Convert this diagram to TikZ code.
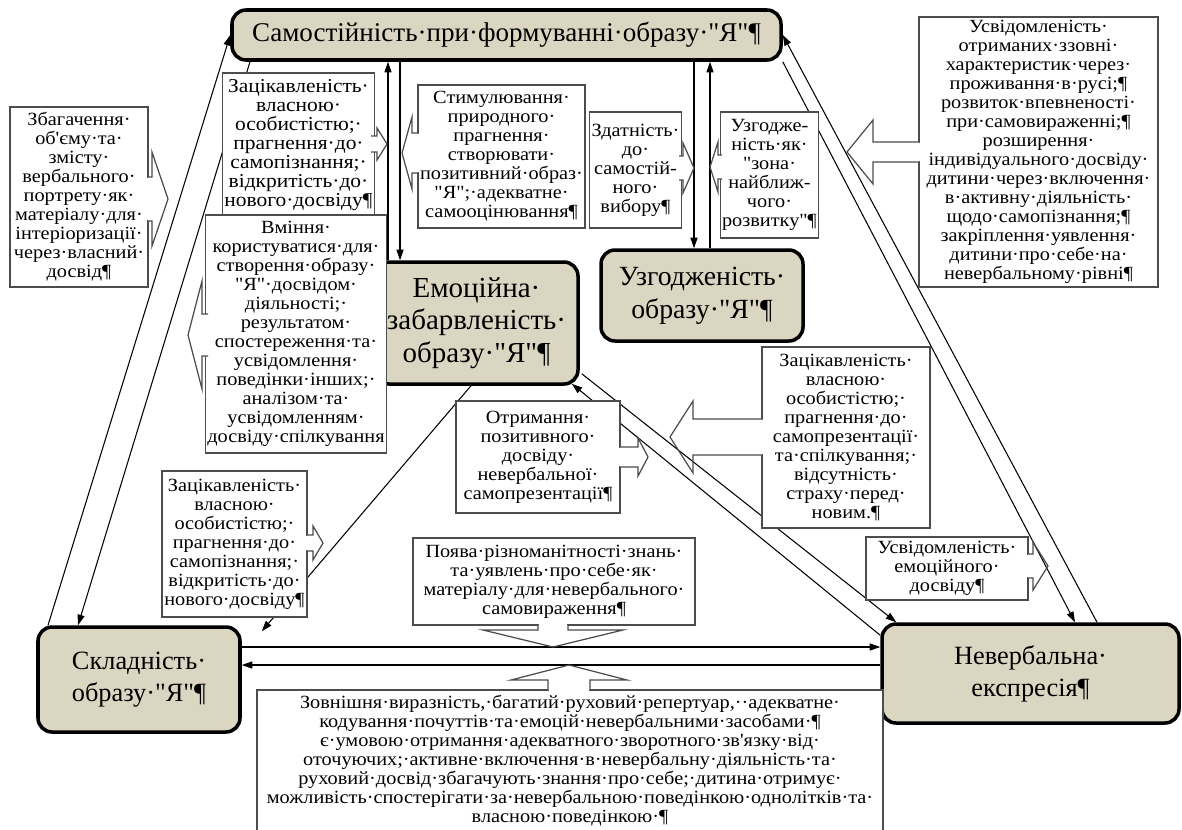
\documentclass[tikz,border=0pt]{standalone}
\usepackage{fontspec}
\setmainfont{Liberation Serif}[Ligatures=TeXOff]
\newfontfamily\notefont{Liberation Serif}[Ligatures=TeXOff, FakeStretch=1.09]
\usetikzlibrary{arrows.meta,calc}

\definecolor{tanfill}{RGB}{219,214,193}

\tikzset{
  main/.style={draw, line width=2pt, rounded corners=8pt, fill=tanfill, align=center,
    font=\fontsize{15}{18.2}\selectfont, inner sep=1pt},
  note/.style={draw=black!70, line width=0.7pt, fill=white, align=center,
    font=\notefont\fontsize{10.6}{10.8}\selectfont, inner sep=1pt},
  conn/.style={line width=0.6pt, -{Triangle[length=6pt,width=4pt]}},
  calline/.style={draw=black!70, line width=0.7pt},
}

% arrow of a callout box, pointing left or right
% #1 box edge x, #2 centre y, #3 head base x, #4 tip x, #5 half shaft, #6 half head
\newcommand{\calloutH}[6]{%
  \fill[white] (#1,#2-#5) rectangle (#3,#2+#5);
  \draw[white, line width=1.2pt] (#1,#2-#5+0.6) -- (#1,#2+#5-0.6);
  \draw[calline] (#1,#2-#5) -- (#3,#2-#5) -- (#3,#2-#6) -- (#4,#2) -- (#3,#2+#6) -- (#3,#2+#5) -- (#1,#2+#5);
}
% the same, pointing up or down
% #1 centre x, #2 box edge y, #3 head base y, #4 tip y, #5 half shaft, #6 half head
\newcommand{\calloutV}[6]{%
  \fill[white] (#1-#5,#2) rectangle (#1+#5,#3);
  \draw[white, line width=1.2pt] (#1-#5+0.6,#2) -- (#1+#5-0.6,#2);
  \draw[calline] (#1-#5,#2) -- (#1-#5,#3) -- (#1-#6,#3) -- (#1,#4) -- (#1+#6,#3) -- (#1+#5,#3) -- (#1+#5,#2);
}

\begin{document}
\begin{tikzpicture}[x=0.02cm, y=-0.02cm]
  \useasboundingbox (0,0) rectangle (1182,829);
  \fill[white] (0,0) rectangle (1182,829);
  \clip (0,0) rectangle (1182,829);
  % \draw[help lines, gray!50, very thin, step=50] (0,0) grid (1182,829);

  % five main blocks
  \node[main, font=\fontsize{15.4}{18.2}\selectfont, minimum width=549*0.02cm, minimum height=50*0.02cm] (samo) at (506.5,35)
    {Самостійність·при·формуванні·образу·"Я"¶};
  \node[main, font=\fontsize{16.5}{18.6}\selectfont, minimum width=203*0.02cm, minimum height=122*0.02cm] (emo) at (476.5,323)
    {Емоційна·\\забарвленість·\\образу·"Я"¶};
  \node[main, font=\fontsize{15.8}{18.6}\selectfont, minimum width=202*0.02cm, minimum height=91*0.02cm] (uzg) at (702,295.5)
    {Узгодженість·\\образу·"Я"¶};
  \node[main, minimum width=202*0.02cm, minimum height=105*0.02cm] (skl) at (139,679.5)
    {Складність·\\образу·"Я"¶};
  \node[main, minimum width=297*0.02cm, minimum height=99*0.02cm] (nev) at (1030.5,673.5)
    {Невербальна·\\експресія¶};

  % links between the blocks
  \draw[conn] (emo.north -| 388,0) -- (samo.south -| 388,0);
  \draw[conn] (samo.south -| 400,0) -- (emo.north -| 400,0);
  \draw[conn] (samo.south -| 694,0) -- (uzg.north -| 694,0);
  \draw[conn] (uzg.north -| 710,0) -- (samo.south -| 710,0);
  \draw[conn] (samo.south east) -- (nev.north -| 1075,0);
  \draw[conn] (nev.north -| 1097,0) -- (samo.east);
  \draw[conn] (samo.south -| 250,0) -- (skl.north -| 78,0);
  \draw[conn] (skl.north -| 48,0) -- (samo.west);
  \draw[conn] (emo.south -| 471,0) -- ($(skl.north east)+(20,6)$);
  \draw[conn] ($(emo.south east)+(2,-12)$) -- ($(nev.north west)+(16,0)$);
  \draw[conn] ($(nev.north west)+(0,13)$) -- ($(emo.south east)+(-8,-2)$);
  \draw[conn] (skl.east |- 0,647) -- (nev.west |- 0,647);
  \draw[conn] (nev.west |- 0,665) -- (skl.east |- 0,665);

  % callout boxes
  \node[note, minimum width=138*0.02cm, minimum height=180*0.02cm] (zbag) at (79,197)
    {Збагачення·\\об'єму·та·\\змісту·\\вербального·\\портрету·як·\\матеріалу·для·\\інтеріоризації·\\через·власний·\\досвід¶};
  \calloutH{148}{199}{152}{168}{22}{47}

  \node[note, font=\notefont\fontsize{11.2}{10.8}\selectfont, minimum width=145*0.02cm, minimum height=144*0.02cm] (zacik1) at (298.5,145)
    {Зацікавленість·\\власною·\\особистістю;·\\прагнення·до·\\самопізнання;·\\відкритість·до·\\нового·досвіду¶};
  \calloutH{371}{144}{377}{387}{8}{16}

  \node[note, minimum width=167*0.02cm, minimum height=143*0.02cm] (stym) at (501.5,156.5)
    {Стимулювання·\\природного·\\прагнення·\\створювати·\\позитивний·образ·\\"Я";·адекватне·\\самооцінювання¶};
  \calloutH{418}{153}{412}{402}{20}{36}

  \node[note, minimum width=87*0.02cm, minimum height=116*0.02cm] (zdat) at (635.5,170)
    {Здатність·\\до·\\самостій-\\ного·\\вибору¶};
  \calloutH{679}{168}{683}{694}{12}{25}

  \node[note, minimum width=95*0.02cm, minimum height=126*0.02cm] (uzgzona) at (769.5,175)
    {Узгодже-\\ність·як·\\"зона·\\найближ-\\чого·\\розвитку"¶};
  \calloutH{722}{167}{718}{710}{12}{25}

  \node[note, minimum width=239*0.02cm, minimum height=270*0.02cm] (usvid) at (1038.5,152)
    {Усвідомленість·\\отриманих·ззовні·\\характеристик·через·\\проживання·в·русі;¶\\розвиток·впевненості·\\при·самовираженні;¶\\розширення·\\індивідуального·досвіду·\\дитини·через·включення·\\в·активну·діяльність·\\щодо·самопізнання;¶\\закріплення·уявлення·\\дитини·про·себе·на·\\невербальному·рівні¶};
  \calloutH{919}{152}{873}{847}{10}{32}

  \node[note, minimum width=176*0.02cm, minimum height=238*0.02cm] (vmin) at (296,334)
    {Вміння·\\користуватися·для·\\створення·образу·\\"Я"·досвідом·\\діяльності;·\\результатом·\\спостереження·та·\\усвідомлення·\\поведінки·інших;·\\аналізом·та·\\усвідомленням·\\досвіду·спілкування};
  \calloutH{208}{335}{202}{188}{21}{54}

  \node[note, minimum width=164*0.02cm, minimum height=112*0.02cm] (otrym) at (538,457)
    {Отримання·\\позитивного·\\досвіду·\\невербальної·\\самопрезентації¶};
  \calloutH{620}{457}{638}{648}{10}{19}

  \node[note, minimum width=168*0.02cm, minimum height=181*0.02cm] (zacik2) at (846,437.5)
    {Зацікавленість·\\власною·\\особистістю;·\\прагнення·до·\\самопрезентації·\\та·спілкування;·\\відсутність·\\страху·перед·\\новим.¶};
  \calloutH{762}{437}{693}{670}{18}{36}

  \node[note, minimum width=145*0.02cm, minimum height=146*0.02cm] (zacik3) at (234.5,544)
    {Зацікавленість·\\власною·\\особистістю;·\\прагнення·до·\\самопізнання;·\\відкритість·до·\\нового·досвіду¶};
  \calloutH{307}{543}{313}{323}{8}{17}

  \node[note, minimum width=282*0.02cm, minimum height=87*0.02cm] (poyava) at (554,581.5)
    {Поява·різноманітності·знань·\\та·уявлень·про·себе·як·\\матеріалу·для·невербального·\\самовираження¶};
  \calloutV{553}{625}{630}{647}{15}{70}

  \node[note, minimum width=626*0.02cm, minimum height=142*0.02cm] (zovn) at (570,761)
    {Зовнішня·виразність,·багатий·руховий·репертуар,··адекватне·\\кодування·почуттів·та·емоцій·невербальними·засобами·¶\\є·умовою·отримання·адекватного·зворотного·зв'язку·від·\\оточуючих;·активне·включення·в·невербальну·діяльність·та·\\руховий·досвід·збагачують·знання·про·себе;·дитина·отримує·\\можливість·спостерігати·за·невербальною·поведінкою·однолітків·та·\\власною·поведінкою·¶};
  \calloutV{569}{690}{680}{665}{21}{58}

  \node[note, minimum width=162*0.02cm, minimum height=63*0.02cm] (usvidem) at (947,568.5)
    {Усвідомленість·\\емоційного·\\досвіду¶};
  \calloutH{1028}{566}{1033}{1048}{12}{24}
\end{tikzpicture}
\end{document}
